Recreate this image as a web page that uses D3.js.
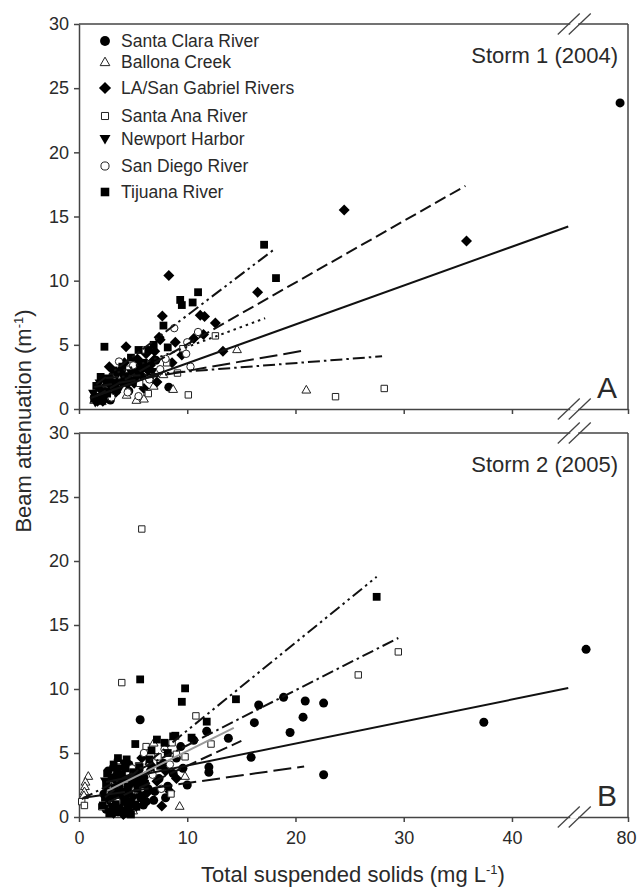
<!DOCTYPE html>
<html><head><meta charset="utf-8">
<script src="https://cdn.jsdelivr.net/npm/d3@7"></script>
<style>body{margin:0;background:#fff}svg{display:block}text{font-family:"Liberation Sans",Arial,Helvetica,sans-serif}</style>
</head><body><svg id="chart" width="637" height="888"></svg>
<script>
// ---------- data ----------
const seriesNames = ["Santa Clara River","Ballona Creek","LA/San Gabriel Rivers","Santa Ana River","Newport Harbor","San Diego River","Tijuana River"];
const xTickValues = [0,10,20,30,40,80];
const yTickValues = [0,5,10,15,20,25,30];
const xDomain = [0,45.5,75.5,80];   // broken axis: 0–45.5 // 75.5–80
const yDomain = [0,30];

// Storm 1 (2004)  [TSS mg/L, beam attenuation 1/m]
const s1SantaClara = [[79.3,23.85],[8.3,1.7],[1.8,0.9],[2.3,1.3],[2.9,0.7],[3.4,1.6],[4.0,2.1],[4.6,1.4],[5.3,2.7],[5.9,3.2],[6.5,2.4],[7.1,3.8],[2.6,2.1],[3.7,2.8]];
const s1Ballona = [[21.0,1.5],[14.6,4.65],[8.7,1.55],[1.4,0.7],[2.1,0.6],[2.7,1.0],[5.3,0.7],[6.0,0.8],[6.9,1.8],[7.8,2.7],[4.4,1.1]];
const s1LA = [[35.8,13.1],[24.5,15.5],[16.5,9.1],[8.3,10.4],[7.7,7.25],[11.2,7.3],[11.6,7.2],[12.6,6.7],[10.6,5.5],[11.5,5.8],[7.5,5.4],[8.9,5.2],[13.3,4.5],[4.35,4.85],[7.4,5.6],[1.5,1.0],[1.9,1.6],[2.2,0.6],[2.6,1.9],[3.0,2.5],[3.4,1.3],[3.8,3.0],[4.2,3.6],[4.6,2.3],[5.0,3.1],[5.4,3.9],[5.8,2.6],[6.2,4.3],[6.6,3.4],[7.0,4.5],[7.2,2.1],[6.0,1.6],[2.8,3.3],[9.5,4.2],[8.6,3.6],[1.7,0.6],[2.4,1.2],[3.1,1.9],[3.6,2.2],[4.4,2.9],[5.1,2.0],[5.6,3.3],[6.4,3.0],[6.9,3.8],[2.0,0.9]];
const s1SantaAna = [[28.2,1.6],[23.7,0.96],[10.1,1.1],[12.6,5.7],[3.5,2.6],[4.6,3.1],[5.6,2.0],[6.4,1.2],[7.1,2.9],[8.1,3.6],[9.1,2.8],[6.1,4.6],[2.5,1.5],[9.6,4.7]];
const s1Newport = [[1.3,1.2],[1.7,0.9],[2.1,1.4],[2.5,1.0],[2.9,1.7],[3.3,2.0],[3.7,1.5],[4.1,2.5],[4.5,1.8],[5.2,2.2],[1.9,2.0],[2.3,2.4],[5.7,3.5],[6.8,2.9],[1.5,0.5],[2.7,1.4],[3.5,2.6],[4.8,2.8]];
const s1SanDiego = [[3.7,3.7],[8.8,6.3],[10.0,5.2],[10.3,3.3],[9.9,4.3],[4.5,1.3],[5.5,1.0],[6.5,2.3],[7.5,3.1],[8.0,3.9],[3.0,0.9],[5.0,3.4],[11.0,6.0]];
const s1Tijuana = [[18.2,10.2],[17.1,12.8],[11.0,9.1],[9.35,8.5],[9.5,8.1],[10.5,8.3],[7.8,6.5],[2.35,4.85],[5.5,4.6],[6.4,4.6],[1.6,1.8],[2.0,2.5],[2.6,1.2],[3.2,3.0],[4.0,3.3],[4.8,4.0],[6.0,3.6],[6.9,5.0],[8.2,4.8],[1.4,0.8]];

// Storm 2 (2005)
const s2SantaClara = [[76.3,13.1],[37.4,7.4],[22.6,3.3],[22.6,8.9],[20.9,9.06],[20.7,7.8],[18.9,9.35],[19.5,6.6],[16.6,8.75],[16.2,7.37],[15.9,4.66],[13.8,6.15],[11.8,6.7],[10.6,6.0],[10.0,2.5],[12.0,3.9],[12.0,3.5],[5.65,7.6],[5.95,0.94],[9.4,5.5],[2.5,0.6],[3.0,1.2],[3.3,2.0],[3.6,0.4],[3.9,2.8],[4.2,1.5],[4.5,0.9],[4.8,2.3],[5.1,3.3],[5.4,1.8],[5.8,2.6],[6.2,1.2],[6.6,3.6],[7.0,2.0],[7.4,3.0],[7.8,4.2],[8.2,2.4],[8.7,3.4],[9.0,4.6],[4.0,3.6],[2.8,2.6],[3.5,3.3],[6.9,1.3],[8.0,1.5],[4.3,0.3],[9.6,3.8],[2.3,1.8],[2.7,3.6],[3.1,0.7],[3.4,2.6],[3.8,1.6],[4.1,2.3],[4.4,3.1],[4.7,1.2],[5.0,0.6],[5.3,2.7],[5.7,1.5],[6.0,3.1],[6.4,2.2],[3.2,3.9],[4.6,4.1],[5.5,3.6],[2.9,2.2],[3.7,0.9],[4.9,1.9]];
const s2Ballona = [[0.86,3.2],[0.6,2.75],[0.55,2.4],[0.5,2.0],[0.45,1.7],[9.3,0.86],[9.8,3.2],[3.1,1.0],[6.9,5.8],[5.0,0.5]];
const s2LA = [[7.65,0.86],[3.2,0.3],[4.1,0.2],[4.8,1.0],[5.5,3.0],[6.3,1.9],[7.2,2.8],[8.0,3.6],[9.0,3.0],[5.8,4.6],[2.7,1.4],[3.7,1.8],[6.7,4.0],[8.4,2.0]];
const s2SantaAna = [[29.5,12.9],[25.8,11.1],[5.8,22.5],[3.95,10.5],[10.8,7.9],[12.2,5.7],[9.8,4.7],[8.5,1.8],[0.25,1.2],[0.5,0.9],[2.1,0.8],[3.55,4.3],[3.7,3.9],[3.0,2.5],[4.6,3.4],[5.5,4.0],[7.3,4.7],[9.0,4.9],[6.2,5.5],[8.6,5.8]];
const s2Newport = [[2.6,2.0],[3.0,0.8],[3.3,1.5],[3.6,2.6],[3.9,1.1],[4.3,2.0],[4.7,0.4],[5.0,1.4],[3.4,3.6],[4.1,4.2],[2.9,3.1],[5.6,2.4],[2.4,2.8],[3.2,2.3],[3.8,3.8],[4.5,3.0],[5.2,1.0],[5.9,3.2],[4.0,1.7]];
const s2SanDiego = [[3.5,1.2],[4.4,2.5],[5.2,2.1],[6.8,3.3],[7.6,2.2],[8.4,4.1],[2.9,1.9],[6.0,5.0],[7.9,5.3],[4.9,3.8]];
const s2Tijuana = [[27.5,17.2],[5.65,10.75],[9.8,10.05],[9.5,9.0],[14.5,9.2],[11.8,7.45],[8.9,6.35],[5.2,5.7],[7.2,6.05],[8.7,6.3],[6.7,5.2],[2.4,1.5],[2.8,0.3],[3.1,3.0],[3.4,1.0],[3.7,2.2],[4.0,0.5],[4.3,3.8],[4.6,1.8],[4.9,2.9],[5.3,0.8],[5.6,3.9],[6.1,2.6],[6.5,4.5],[7.5,4.0],[8.2,5.0],[2.6,3.4],[3.2,4.1],[7.9,5.8],[10.4,6.2],[4.4,4.5],[2.5,2.6],[3.0,1.8],[3.5,2.9],[3.9,3.3],[4.2,1.2],[4.5,2.4],[5.0,3.5],[5.4,2.2],[5.9,1.7],[3.3,0.6],[4.8,0.2],[2.2,0.9],[3.6,4.6]];

// regression lines: [series, xFrom, xTo, intercept, slope]
const storm1Fits = [
  ["Santa Clara River", 1.0, 45.2, 0.53, 0.303],
  ["LA/San Gabriel Rivers", 1.5, 35.7, 0.25, 0.48],
  ["Tijuana River", 1.6, 18.1, 0.9, 0.64],
  ["San Diego River", 3.0, 17.2, 1.74, 0.31],
  ["Ballona Creek", 1.4, 21.0, 1.5, 0.147],
  ["Santa Ana River", 2.5, 28.0, 2.26, 0.066]
];
const storm2Fits = [
  ["Santa Clara River", 2.5, 45.2, 2.3, 0.172],
  ["Tijuana River", 2.4, 27.5, -0.1, 0.686],
  ["Santa Ana River", 0.25, 29.5, 1.3, 0.43],
  ["LA/San Gabriel Rivers", 2.7, 15.0, 0.1, 0.39],
  ["Newport Harbor", 2.6, 14.3, 0.95, 0.42],
  ["Ballona Creek", 0.4, 20.8, 1.45, 0.12]
];

const storm1Sets = [s1SantaClara,s1Ballona,s1LA,s1SantaAna,s1Newport,s1SanDiego,s1Tijuana];
const storm2Sets = [s2SantaClara,s2Ballona,s2LA,s2SantaAna,s2Newport,s2SanDiego,s2Tijuana];

// ---------- styles ----------
const markerStyle = {
  "Santa Clara River":     {shape:"circle",  s:4.5, filled:true},
  "Ballona Creek":         {shape:"triangle",s:4.4, filled:false},
  "LA/San Gabriel Rivers": {shape:"diamond", s:5.5, filled:true},
  "Santa Ana River":       {shape:"square",  s:3.2, filled:false},
  "Newport Harbor":        {shape:"tridown", s:5.0, filled:true},
  "San Diego River":       {shape:"circle",  s:3.7, filled:false},
  "Tijuana River":         {shape:"square",  s:3.9, filled:true}
};
const lineStyle = {
  "Santa Clara River":     {dash:null, color:"#111"},
  "LA/San Gabriel Rivers": {dash:"12,5", color:"#111"},
  "Tijuana River":         {dash:"12,4,2.5,4,2.5,4", color:"#111"},
  "San Diego River":       {dash:"2.5,4", color:"#111"},
  "Ballona Creek":         {dash:"18,6", color:"#111"},
  "Santa Ana River":       {dash:"12,4,2.5,4", color:"#111"},
  "Newport Harbor":        {dash:null, color:"#9a9a9a"}
};
function shapePath(shape, s){
  switch(shape){
    case "circle": return d3.symbol(d3.symbolCircle, Math.PI*s*s)();
    case "square": return `M${-s},${-s}H${s}V${s}H${-s}Z`;
    case "diamond": return `M0,${-s}L${s},0L0,${s}L${-s},0Z`;
    case "triangle": return `M0,${-s}L${s},${s*0.75}L${-s},${s*0.75}Z`;
    case "tridown": return `M${-s},${-s*0.75}L${s},${-s*0.75}L0,${s}Z`;
  }
}

const svg = d3.select("#chart");
const axisColor = "#444", textColor = "#2a2a2a";
const left = 79, right = 628;
const x = d3.scaleLinear().domain(xDomain).range([left, 571.5, 577, right]);

const panels = [
  {top:24, bottom:409, sets:storm1Sets, fits:storm1Fits, title:"Storm 1 (2004)", letter:"A", labels:false},
  {top:433, bottom:817, sets:storm2Sets, fits:storm2Fits, title:"Storm 2 (2005)", letter:"B", labels:true}
];

panels.forEach(p => {
  const y = d3.scaleLinear().domain(yDomain).range([p.bottom, p.top]);
  const g = svg.append("g");

  // axes
  const ya = g.append("g").attr("transform",`translate(${left},0)`)
    .call(d3.axisLeft(y).tickValues(yTickValues).tickSize(5).tickSizeOuter(0).tickPadding(5));
  const xa = g.append("g").attr("transform",`translate(0,${p.bottom})`)
    .call(d3.axisBottom(x).tickValues(xTickValues).tickSize(5).tickSizeOuter(0).tickPadding(9)
      .tickFormat(p.labels ? d3.format("d") : ""));
  [ya, xa].forEach(a => {
    a.selectAll("path,line").attr("stroke",axisColor).attr("stroke-width",1.5);
    a.selectAll("text").attr("fill",textColor).style("font-size","18px");
  });
  // keep the last x label ("80") inside the page
  xa.selectAll(".tick text").filter(d => d === 80).attr("dx", -2);

  // top and right borders
  g.append("line").attr("x1",left).attr("x2",right).attr("y1",p.top).attr("y2",p.top)
    .attr("stroke",axisColor).attr("stroke-width",1.5);
  g.append("line").attr("x1",right).attr("x2",right).attr("y1",p.top).attr("y2",p.bottom)
    .attr("stroke",axisColor).attr("stroke-width",1.5);

  // break marks
  const bm = (x(45.5)+x(75.5))/2;
  [p.top, p.bottom].forEach(yy => {
    g.append("rect").attr("x",bm-4).attr("y",yy-1.5).attr("width",8).attr("height",3).attr("fill","#fff");
    [-5.5, 5.5].forEach(dx => {
      g.append("line").attr("x1",bm+dx-11).attr("y1",yy+10.5).attr("x2",bm+dx+11).attr("y2",yy-10.5)
        .attr("stroke",axisColor).attr("stroke-width",1.3);
    });
  });

  // points
  seriesNames.forEach((name,i) => {
    const st = markerStyle[name];
    g.append("g").selectAll("path").data(p.sets[i]).join("path")
      .attr("transform", d => `translate(${x(d[0])},${y(d[1])})`)
      .attr("d", shapePath(st.shape, st.s))
      .attr("fill", st.filled ? "#000" : "#fff")
      .attr("stroke", st.filled ? "none" : "#222")
      .attr("stroke-width", 1);
  });

  // regression lines
  const lineGen = d3.line().x(d => x(d[0])).y(d => y(d[1]));
  p.fits.forEach(f => {
    const [name, x0, x1, b, m] = f;
    const ls = lineStyle[name];
    g.append("path").attr("d", lineGen([[x0, b+m*x0],[x1, b+m*x1]]))
      .attr("fill","none").attr("stroke",ls.color).attr("stroke-width",2)
      .attr("stroke-dasharray", ls.dash);
  });

  // titles
  g.append("text").attr("x",618).attr("y",p.top+39).attr("text-anchor","end")
    .attr("fill",textColor).style("font-size","22px").text(p.title);
  g.append("text").attr("x",607).attr("y",p.bottom-11).attr("text-anchor","middle")
    .attr("fill",textColor).style("font-size","30px").text(p.letter);
});

// legend (top panel)
const legendY = [41,62,88,116,139,166,192];
const lg = svg.append("g");
seriesNames.forEach((name,i) => {
  const st = markerStyle[name];
  lg.append("path").attr("transform",`translate(105,${legendY[i]})`)
    .attr("d", shapePath(st.shape, st.s*1.1))
    .attr("fill", st.filled ? "#000" : "#fff")
    .attr("stroke", st.filled ? "none" : "#222").attr("stroke-width",1);
  lg.append("text").attr("x",121).attr("y",legendY[i]+6).attr("fill",textColor)
    .style("font-size","17.5px").text(name);
});

// axis titles
const yt = svg.append("text").attr("transform","translate(31,421) rotate(-90)")
  .attr("text-anchor","middle").attr("fill",textColor).style("font-size","22px");
yt.append("tspan").text("Beam attenuation (m");
yt.append("tspan").attr("dy",-8).style("font-size","13px").text("-1");
yt.append("tspan").attr("dy",8).text(")");

const xt = svg.append("text").attr("x",353).attr("y",882)
  .attr("text-anchor","middle").attr("fill",textColor).style("font-size","22px");
xt.append("tspan").text("Total suspended solids (mg L");
xt.append("tspan").attr("dy",-8).style("font-size","13px").text("-1");
xt.append("tspan").attr("dy",8).text(")");
</script></body></html>
